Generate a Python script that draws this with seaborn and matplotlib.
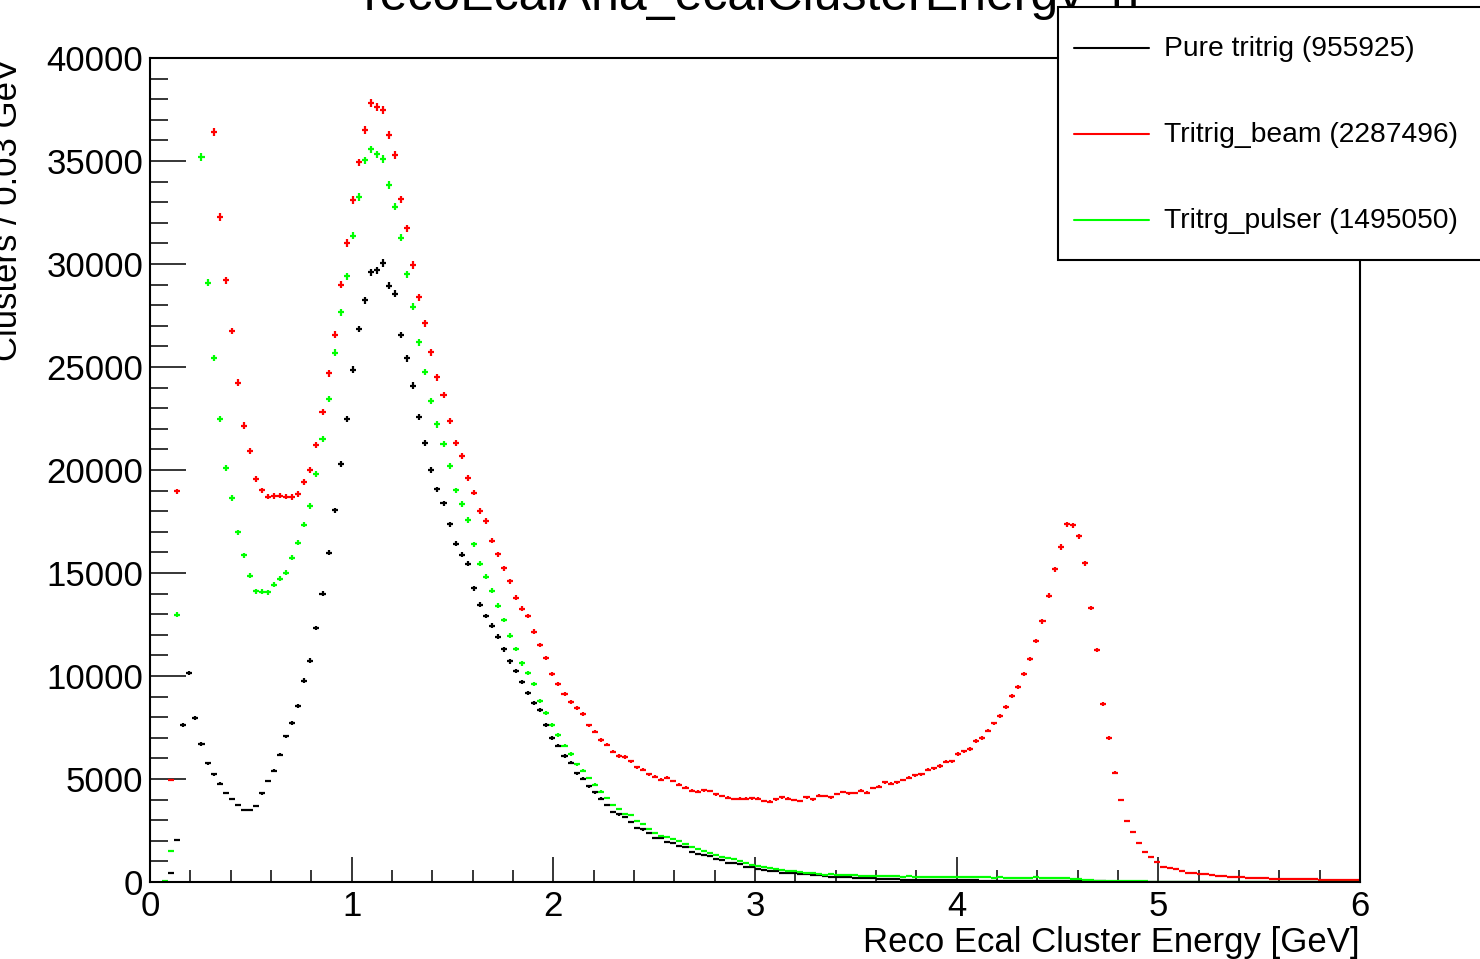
"""
Reco Ecal cluster energy: pure tritrig vs tritrig+beam vs tritrig+pulser.
ROOT-style histogram with error crosses, redrawn with seaborn/matplotlib.
"""

import numpy as np
import pandas as pd
import matplotlib
matplotlib.use("Agg")
import matplotlib.pyplot as plt
from matplotlib.lines import Line2D
from matplotlib.legend_handler import HandlerLine2D
from matplotlib.ticker import MultipleLocator
import seaborn as sns

# ── Data (counts per 0.03 GeV bin, 0 - 6 GeV) ────────────────────────────────
BIN_WIDTH = 0.03
E_MIN, E_MAX = 0.0, 6.0

pure_tritrig = [
    0, 0, 0, 450, 2030, 7620, 10140, 7960, 6700, 5770,
    5220, 4770, 4320, 4030, 3740, 3500, 3490, 3700, 4310, 4900,
    5390, 6180, 7070, 7720, 8540, 9780, 10750, 12330, 14000, 15990,
    18040, 20310, 22460, 24870, 26840, 28250, 29610, 29690, 30050, 28950,
    28560, 26550, 25420, 24100, 22590, 21330, 20000, 19060, 18380, 17360,
    16420, 15890, 15440, 14250, 13460, 12910, 12440, 11910, 11290, 10710,
    10240, 9710, 9190, 8690, 8350, 7620, 6990, 6620, 6120, 5780,
    5290, 5020, 4650, 4350, 4040, 3730, 3400, 3280, 3160, 2920,
    2640, 2550, 2360, 2140, 2130, 1940, 1880, 1730, 1690, 1460,
    1380, 1290, 1250, 1130, 1050, 940, 940, 870, 710, 740,
    610, 600, 530, 520, 450, 450, 440, 370, 370, 360,
    330, 310, 260, 240, 230, 220, 205, 195, 180, 170,
    155, 145, 135, 130, 120, 115, 110, 105, 100, 98,
    95, 92, 88, 85, 80, 78, 75, 72, 70, 68,
    65, 62, 60, 58, 55, 52, 50, 48, 45, 42,
    40, 38, 35, 32, 30, 28, 26, 24, 22, 20,
    19, 18, 17, 16, 15, 14, 13, 12, 12, 11,
    10, 10, 9, 9, 8, 8, 7, 7, 6, 6,
    6, 5, 5, 5, 4, 4, 4, 4, 3, 3,
    3, 3, 3, 2, 2, 2, 2, 2, 2, 1,
]

tritrig_beam = [
    0, 0, 0, 4950, 18960, 48000, 56000, 52000, 46000, 41000,
    36420, 32280, 29200, 26750, 24240, 22160, 20920, 19560, 19010, 18710,
    18730, 18760, 18710, 18690, 18850, 19420, 20020, 21210, 22830, 24690,
    26570, 29000, 31020, 33100, 34930, 36500, 37800, 37630, 37460, 36260,
    35290, 33140, 31730, 29950, 28380, 27130, 25710, 24500, 23650, 22390,
    21290, 20690, 19620, 18900, 18010, 17520, 16570, 15910, 15240, 14590,
    13800, 13270, 12910, 12150, 11500, 10870, 10080, 9590, 9130, 8750,
    8430, 8140, 7600, 7300, 6890, 6660, 6330, 6120, 6070, 5850,
    5560, 5440, 5220, 5110, 4970, 5060, 4900, 4730, 4580, 4440,
    4380, 4450, 4420, 4250, 4170, 4090, 4030, 4040, 4040, 4060,
    4040, 3930, 3900, 4010, 4110, 4040, 3980, 3930, 4110, 4010,
    4190, 4170, 4110, 4270, 4370, 4300, 4320, 4430, 4330, 4560,
    4630, 4850, 4770, 4850, 4950, 5060, 5180, 5240, 5440, 5520,
    5630, 5830, 5860, 6210, 6340, 6460, 6840, 7000, 7350, 7700,
    8070, 8490, 9010, 9480, 10110, 10810, 11710, 12650, 13900, 15180,
    16260, 17360, 17310, 16780, 15480, 13300, 11260, 8660, 6980, 5310,
    3980, 2960, 2440, 1880, 1460, 1200, 950, 710, 660, 610,
    520, 450, 420, 390, 370, 340, 310, 290, 260, 240,
    230, 210, 200, 180, 170, 165, 160, 150, 145, 140,
    135, 130, 125, 120, 115, 110, 110, 105, 100, 100,
]

tritrig_pulser = [
    0, 0, 30, 1520, 12980, 44000, 51000, 42000, 35190, 29100,
    25440, 22480, 20100, 18640, 16980, 15860, 14870, 14120, 14100, 14070,
    14440, 14720, 15010, 15740, 16480, 17350, 18250, 19790, 21510, 23460,
    25700, 27650, 29400, 31370, 33250, 35030, 35560, 35320, 35090, 33830,
    32780, 31280, 29510, 27930, 26200, 24760, 23340, 22210, 21280, 20190,
    19010, 18350, 17570, 16390, 15440, 14820, 14140, 13410, 12720, 11960,
    11310, 10610, 10130, 9610, 8790, 8200, 7620, 7140, 6620, 6210,
    5710, 5390, 5050, 4720, 4380, 4070, 3730, 3540, 3310, 3240,
    2950, 2830, 2560, 2400, 2250, 2160, 2080, 1970, 1860, 1690,
    1600, 1490, 1390, 1290, 1230, 1180, 1100, 1000, 900, 840,
    780, 730, 690, 630, 580, 530, 520, 480, 450, 420,
    390, 360, 370, 360, 330, 330, 330, 310, 310, 300,
    290, 280, 270, 280, 260, 270, 260, 250, 260, 250,
    240, 250, 240, 230, 240, 230, 220, 230, 220, 210,
    220, 210, 200, 210, 200, 210, 220, 210, 200, 200,
    210, 190, 160, 130, 110, 90, 70, 60, 50, 40,
    35, 30, 30, 25, 25, 20, 20, 15, 15, 12,
    12, 10, 10, 8, 8, 8, 6, 6, 6, 5,
    5, 5, 4, 4, 4, 3, 3, 3, 3, 2,
    2, 2, 2, 2, 2, 1, 1, 1, 1, 1,
]

series_names = ["Pure tritrig", "Tritrig_beam", "Tritrg_pulser"]
series_totals = ["955925", "2287496", "1495050"]
series_colors = ["#000000", "#ff0000", "#00ff00"]

TITLE = "recoEcalAna_ecalClusterEnergy_h"
XLABEL = "Reco Ecal Cluster Energy [GeV]"
YLABEL = "Clusters / 0.03 GeV"

# long-form table
n_bins = len(pure_tritrig)
centers = E_MIN + BIN_WIDTH * (np.arange(n_bins) + 0.5)
df = pd.concat([
    pd.DataFrame({"energy": centers, "counts": vals, "sample": name})
    for name, vals in zip(series_names, [pure_tritrig, tritrig_beam, tritrig_pulser])
], ignore_index=True)

# ── Style ────────────────────────────────────────────────────────────────────
sns.set_theme(style="ticks")
plt.rcParams["font.family"] = ["Liberation Sans", "DejaVu Sans"]
plt.rcParams["axes.linewidth"] = 1.5
for key in ["text.color", "axes.labelcolor", "xtick.color", "ytick.color",
            "axes.edgecolor"]:
    plt.rcParams[key] = "black"

fig = plt.figure(figsize=(14.8, 9.59), dpi=100, facecolor="white")
ax = fig.add_axes([0.1014, 0.0803, 0.8176, 0.8592])
ax.set_facecolor("white")

# error crosses, ROOT "E" style: horizontal = bin width, vertical = sqrt(N)
for name, color in zip(series_names, series_colors):
    sub = df[(df["sample"] == name) & (df["counts"] > 0)]
    ax.errorbar(sub["energy"], sub["counts"], xerr=BIN_WIDTH / 2,
                yerr=np.sqrt(sub["counts"]), fmt="none", ecolor=color,
                elinewidth=1.6, capsize=0)

ax.set_xlim(E_MIN, E_MAX)
ax.set_ylim(0, 40000)
ax.xaxis.set_major_locator(MultipleLocator(1))
ax.xaxis.set_minor_locator(MultipleLocator(0.2))
ax.yaxis.set_major_locator(MultipleLocator(5000))
ax.yaxis.set_minor_locator(MultipleLocator(1000))

ax.tick_params(axis="both", which="both", direction="in", colors="black",
               labelcolor="black", width=1.1, labelsize=25,
               top=False, right=False)
ax.tick_params(axis="x", which="major", length=18, pad=6)
ax.tick_params(axis="x", which="minor", length=9)
ax.tick_params(axis="y", which="major", length=26, pad=5)
ax.tick_params(axis="y", which="minor", length=13)

for sp in ax.spines.values():
    sp.set_color("black")
    sp.set_linewidth(1.5)

ax.set_xlabel(XLABEL, fontsize=25, loc="right", color="black")
ax.xaxis.set_label_coords(1.0, -0.053)
ax.set_ylabel(YLABEL, fontsize=25, loc="top", color="black")
ax.yaxis.set_label_coords(-0.104, 1.0)

fig.text(0.508, 0.9896, TITLE, fontsize=36, ha="center", va="baseline",
         color="black")


# legend line drawn level with the middle of its text
class CenteredLine(HandlerLine2D):
    def create_artists(self, legend, orig_handle, xdescent, ydescent,
                       width, height, fontsize, trans):
        return super().create_artists(legend, orig_handle, xdescent,
                                      ydescent + 13, width, height,
                                      fontsize, trans)


handles = [Line2D([], [], color=c, lw=1.5) for c in series_colors]
labels = [f"{n} ({t})" for n, t in zip(series_names, series_totals)]
leg = fig.legend(handles, labels, loc="upper left",
                 bbox_to_anchor=(0.7149, 0.7247, 0.30, 0.268), mode="expand",
                 borderaxespad=0, fontsize=20.3, frameon=True, fancybox=False,
                 shadow=False, borderpad=0.55, labelspacing=1.27,
                 handleheight=2.36, handlelength=2.66, handletextpad=0.54,
                 handler_map={Line2D: CenteredLine()})
leg.get_frame().set_edgecolor("black")
leg.get_frame().set_linewidth(1.5)
leg.get_frame().set_facecolor("white")
leg.get_frame().set_alpha(1)
for t in leg.get_texts():
    t.set_color("black")

fig.savefig("out.png", dpi=100, facecolor="white")
plt.close(fig)
